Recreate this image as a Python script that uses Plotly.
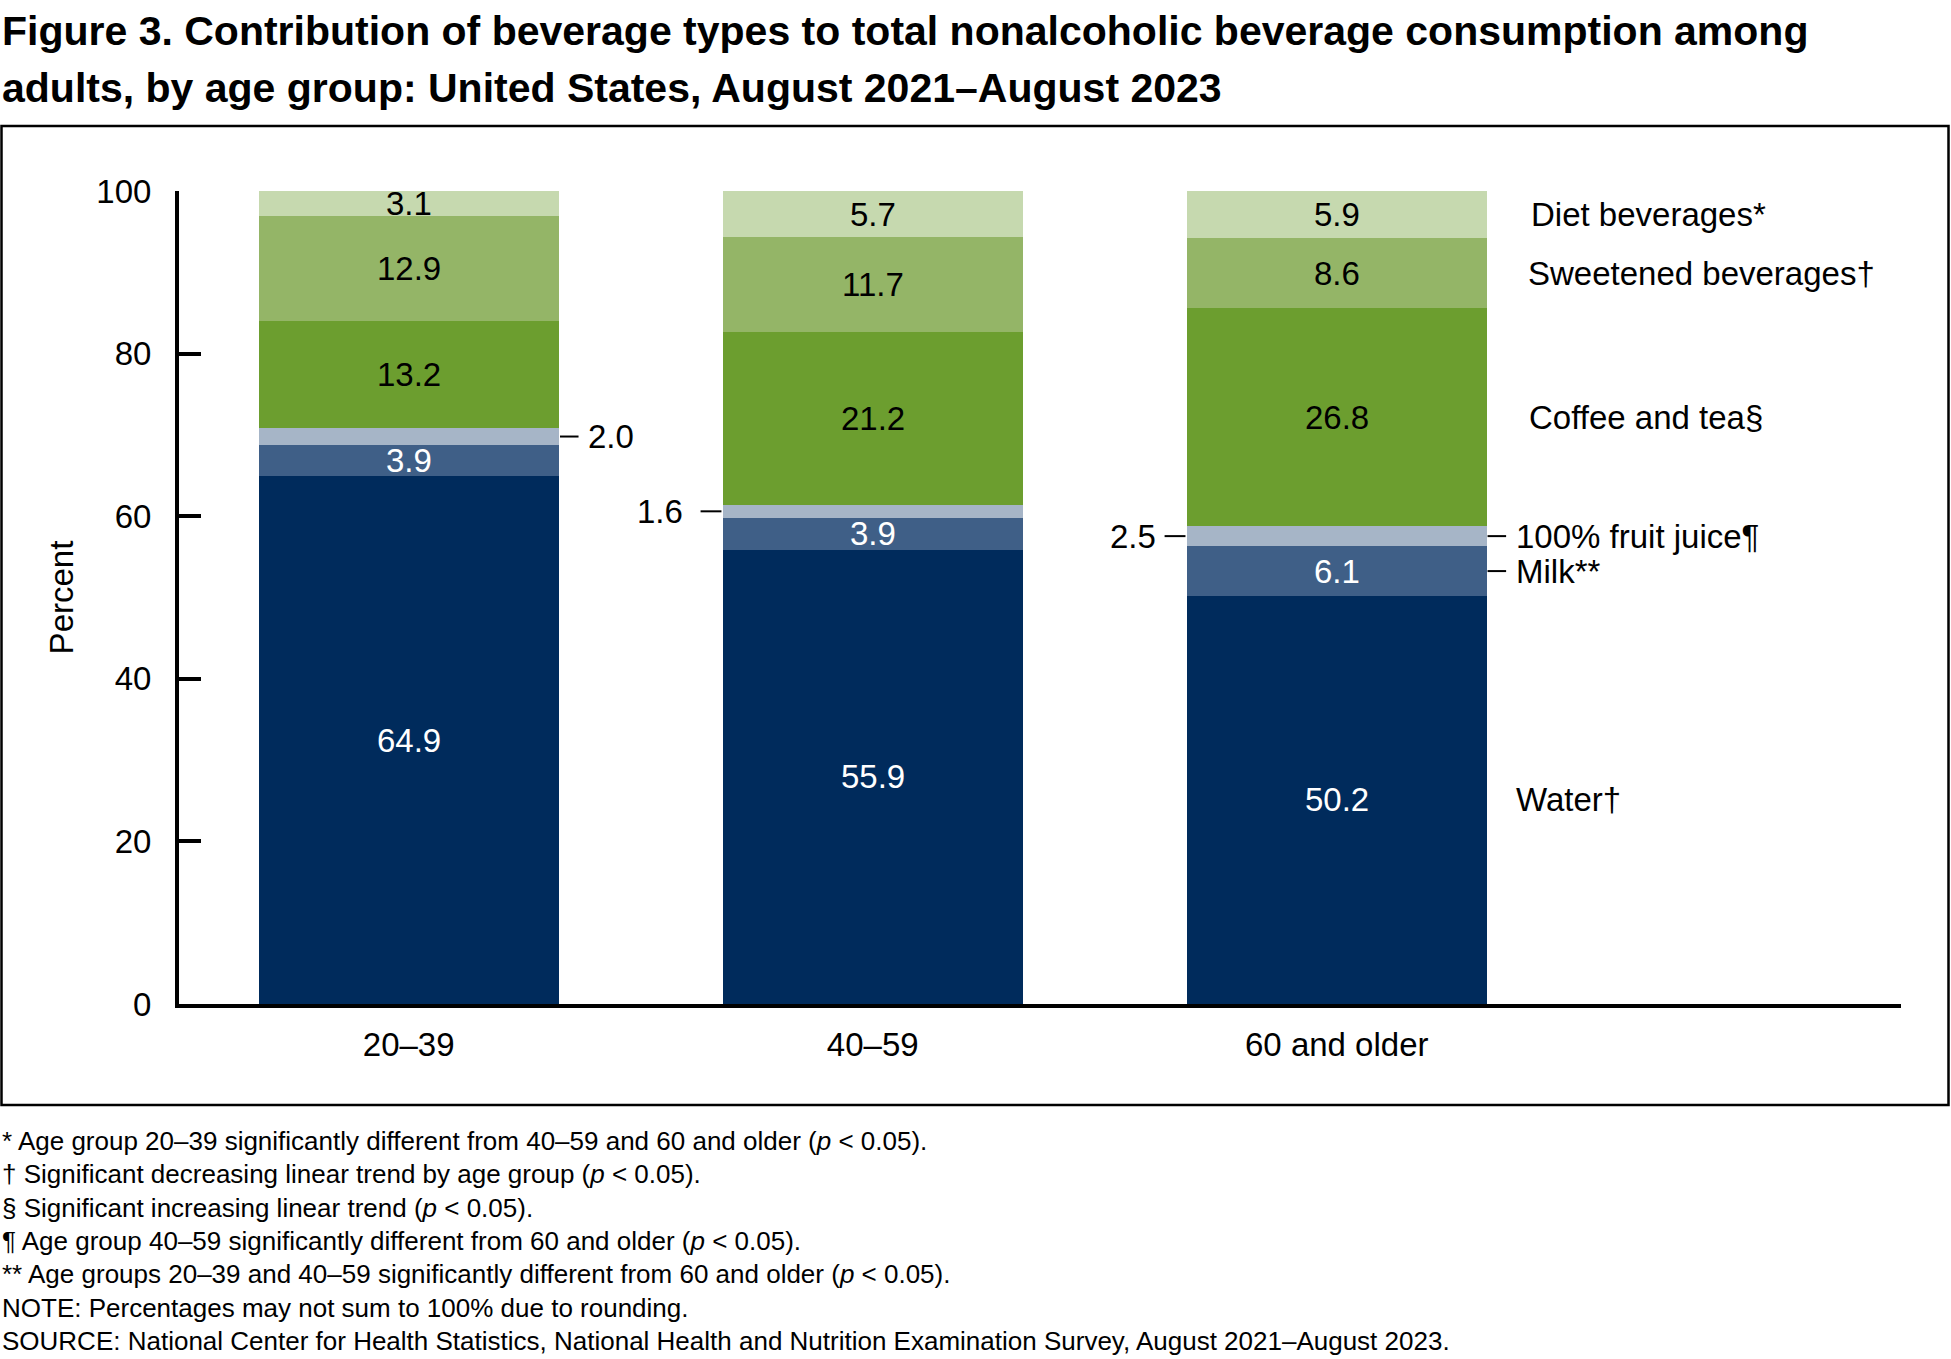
import plotly.graph_objects as go

# values
age_groups = ["20–39", "40–59", "60 and older"]
water = [64.9, 55.9, 50.2]
milk = [3.9, 3.9, 6.1]
fruit_juice = [2.0, 1.6, 2.5]
coffee_tea = [13.2, 21.2, 26.8]
sweetened = [12.9, 11.7, 8.6]
diet = [3.1, 5.7, 5.9]

series_names = ["Water†", "Milk**", "100% fruit juice¶", "Coffee and tea§",
                "Sweetened beverages†", "Diet beverages*"]
series_values = [water, milk, fruit_juice, coffee_tea, sweetened, diet]
colors = ["#002b5c", "#3f5f87", "#a6b5c7", "#6c9e2f", "#94b567", "#c6d9af"]
text_colors = ["white", "white", None, "black", "black", "black"]

title_lines = [
    "Figure 3. Contribution of beverage types to total nonalcoholic beverage consumption among",
    "adults, by age group: United States, August 2021–August 2023",
]
footnotes = [
    "* Age group 20–39 significantly different from 40–59 and 60 and older (<i>p</i> < 0.05).",
    "† Significant decreasing linear trend by age group (<i>p</i> < 0.05).",
    "§ Significant increasing linear trend (<i>p</i> < 0.05).",
    "¶ Age group 40–59 significantly different from 60 and older (<i>p</i> < 0.05).",
    "** Age groups 20–39 and 40–59 significantly different from 60 and older (<i>p</i> < 0.05).",
    "NOTE: Percentages may not sum to 100% due to rounding.",
    "SOURCE: National Center for Health Statistics, National Health and Nutrition Examination Survey, August 2021–August 2023.",
]

FONT = "Liberation Sans, Arial, sans-serif"
BLACK = "#000000"
FS = 33

W, H = 1951, 1359
L, R, T, B = 179, 50, 191, 355
pw, ph = W - L - R, H - T - B

def px(x):
    return (x - L) / pw

def py(y):
    return (H - B - y) / ph

fig = go.Figure()
for name, vals, col in zip(series_names, series_values, colors):
    fig.add_trace(go.Bar(x=age_groups, y=vals, name=name, marker_color=col,
                         marker_line_width=0, hoverinfo="skip"))

annotations = []
shapes = []

# segment centres for each bar
centres = []
for g in range(len(age_groups)):
    base = 0
    row = []
    for vals in series_values:
        row.append(base + vals[g] / 2)
        base += vals[g]
    centres.append(row)

# labels inside the bars
for g in range(len(age_groups)):
    for s, vals in enumerate(series_values):
        if text_colors[s] is None:
            continue
        annotations.append(dict(x=g, y=centres[g][s], xref="x", yref="y",
                                text=f"{vals[g]:.1f}", showarrow=False,
                                font=dict(size=FS, color=text_colors[s], family=FONT)))

# fruit juice labels outside the bars, with small leader dashes
juice_pos = [("right", 0.383), ("left", 0.405), ("left", 0.385)]
for g, (side, off) in enumerate(juice_pos):
    yc = centres[g][2]
    if side == "right":
        x0, x1, tx, anchor = g + 0.326, g + 0.366, g + off, "left"
    else:
        x0, x1, tx, anchor = g - 0.371, g - 0.326, g - off, "right"
    shapes.append(dict(type="line", xref="x", yref="y", x0=x0, x1=x1, y0=yc, y1=yc,
                       line=dict(color=BLACK, width=2)))
    annotations.append(dict(x=tx, y=yc, xref="x", yref="y", text=f"{fruit_juice[g]:.1f}",
                            showarrow=False, xanchor=anchor,
                            font=dict(size=FS, color=BLACK, family=FONT)))

# series labels to the right of the last bar
last = len(age_groups) - 1
label_off = [0.382, 0.382, 0.382, 0.41, 0.408, 0.414]
for s, name in enumerate(series_names):
    yc = centres[last][s]
    if s in (1, 2):
        shapes.append(dict(type="line", xref="x", yref="y", x0=last + 0.325, x1=last + 0.365,
                           y0=yc, y1=yc, line=dict(color=BLACK, width=2)))
    annotations.append(dict(x=last + label_off[s], y=yc, xref="x", yref="y", text=name,
                            showarrow=False, xanchor="left",
                            font=dict(size=FS, color=BLACK, family=FONT)))

# title
for i, line in enumerate(title_lines):
    annotations.append(dict(x=px(0), y=py(31 + 57 * i), xref="paper", yref="paper",
                            text=f"<b>{line}</b>", showarrow=False, xanchor="left",
                            yanchor="middle",
                            font=dict(size=41, color=BLACK, family=FONT)))
# footnotes
for i, line in enumerate(footnotes):
    annotations.append(dict(x=px(0), y=py(1141 + 33.3 * i), xref="paper", yref="paper",
                            text=line, showarrow=False, xanchor="left", yanchor="middle",
                            font=dict(size=26, color=BLACK, family=FONT)))

# outer frame around the chart
shapes.append(dict(type="rect", xref="paper", yref="paper", x0=px(1.5), x1=px(1948.5),
                   y0=py(126), y1=py(1105), line=dict(color=BLACK, width=2.5),
                   layer="below"))

fig.update_layout(
    width=W, height=H,
    margin=dict(l=L, r=R, t=T, b=B, autoexpand=False),
    barmode="stack", bargap=0.354,
    showlegend=False,
    plot_bgcolor="white", paper_bgcolor="white",
    font=dict(family=FONT, size=FS, color=BLACK),
    annotations=annotations, shapes=shapes,
)
fig.update_yaxes(range=[0, 100], tickvals=[0, 20, 40, 60, 80, 100], showgrid=False,
                 zeroline=False, showline=True, linecolor=BLACK, linewidth=4,
                 ticks="inside", ticklen=22, tickwidth=4, tickcolor=BLACK,
                 ticklabelstandoff=17, tickfont=dict(size=FS),
                 title=dict(text="Percent", font=dict(size=FS), standoff=14))
fig.update_xaxes(range=[-0.495, 3.216], showgrid=False, zeroline=False, showline=True,
                 linecolor=BLACK, linewidth=4, ticks="", ticklabelstandoff=8,
                 tickfont=dict(size=FS))

# the page has a default 8px body margin; drop it so the figure fills the window
fig.write_html("out.html", config={"displayModeBar": False},
               post_script="document.body.style.margin='0';")
